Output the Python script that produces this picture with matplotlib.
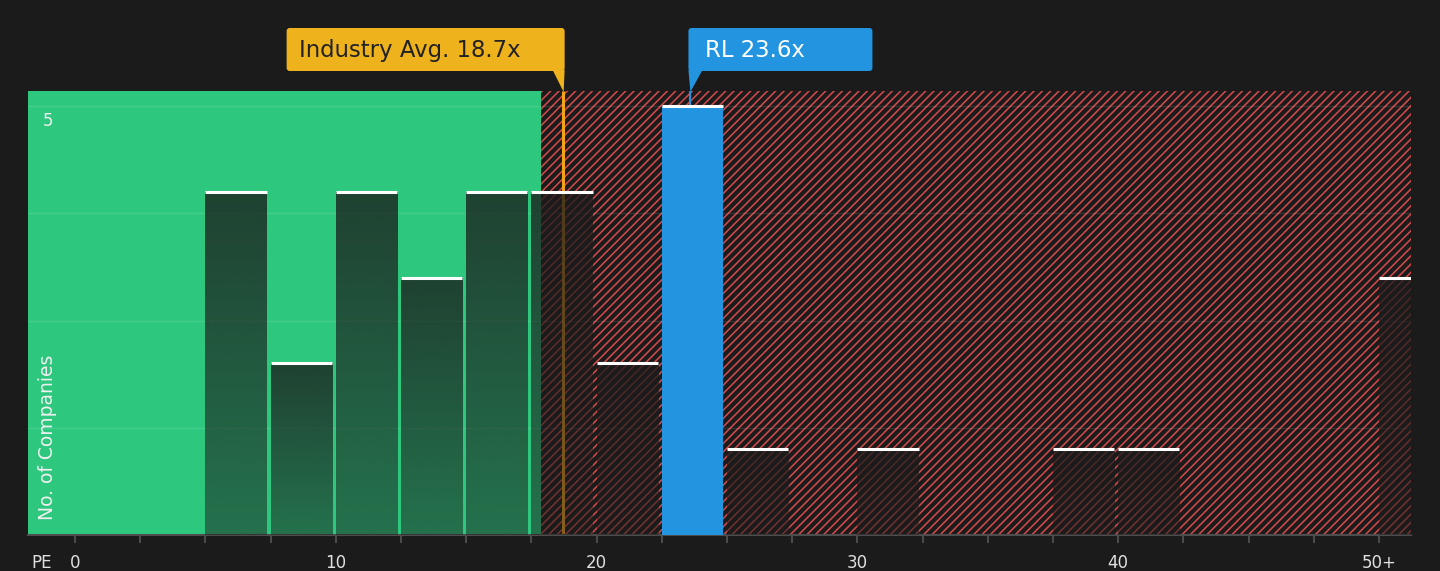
import numpy as np
import matplotlib.pyplot as plt
from matplotlib.patches import FancyBboxPatch, Polygon
from matplotlib.transforms import IdentityTransform

# histogram of PE ratios (bins of 2.5, last bin is 50+)
bin_left = [5, 7.5, 10, 12.5, 15, 17.5, 20, 22.5, 25, 27.5, 30, 32.5,
            35, 37.5, 40, 42.5, 45, 47.5, 50]
counts = [4, 2, 4, 3, 4, 4, 2, 5, 1, 0, 1, 0, 0, 1, 1, 0, 0, 0, 3]
tick_vals = [0, 10, 20, 30, 40, 50]
tick_text = ["0", "10", "20", "30", "40", "50+"]

industry_avg = 18.7
company = "RL"
company_pe = 23.6
fair_edge = 17.87   # end of green zone

bg = "#1b1b1b"
green = "#2ec77e"
red = "#d14a4a"
gold = "#edb21c"
orange = "#f2a31b"
blue = "#2394e0"

W, H, DPI = 1440, 571, 100
fig = plt.figure(figsize=(W / DPI, H / DPI), dpi=DPI, facecolor=bg)
ax = fig.add_axes([28 / W, 1 - 535 / H, (1411 - 28) / W, (535 - 91) / H])
ax.set_facecolor(bg)

xmin, xmax = -1.80, 51.23
ymax = 5.175
plt.rcParams["hatch.linewidth"] = 1.15

ax.axvspan(xmin, fair_edge, color=green, lw=0, zorder=0)
ax.axvspan(fair_edge, xmax, facecolor=bg, edgecolor=red, hatch="////", lw=0, zorder=0)

for gy in [1.25, 2.5, 3.75, 5]:
    ax.axhline(gy, color="white", alpha=0.1, lw=1, zorder=1)

# marker lines (bars sit on top of them)
ax.vlines(industry_avg, 0, ymax, color=orange, lw=2.2, zorder=2, clip_on=False)
ax.vlines(company_pe, 0, ymax, color=blue, lw=1.5, zorder=2, clip_on=False)

bar_w = 2.35
rl_bin = max(b for b in bin_left if b <= company_pe)
colors = [blue if b == rl_bin else (0, 0, 0, 0) for b in bin_left]
bars = ax.bar(bin_left, counts, width=bar_w, align="edge", color=colors,
              lw=0, zorder=3)

bgrgb = np.array([27, 27, 27]) / 255
grad = np.zeros((64, 1, 4))
grad[:, 0, :3] = bgrgb
grad[:, 0, 3] = np.linspace(0.78, 0.5, 64)

for b, x0, h in zip(bars, bin_left, counts):
    if h == 0:
        continue
    if x0 != rl_bin:
        im = ax.imshow(grad, extent=(x0, x0 + bar_w, 0, h), aspect="auto",
                       interpolation="bilinear", zorder=3)
        im.set_clip_path(b)
    ax.hlines(h, x0, x0 + bar_w, color="white", lw=2.2, zorder=4)

ax.set_xlim(xmin, xmax)
ax.set_ylim(0, ymax)

for s in ["left", "right", "top"]:
    ax.spines[s].set_visible(False)
ax.spines["bottom"].set_color("#4d4d4d")
ax.spines["bottom"].set_linewidth(1.5)

ax.set_xticks(np.arange(0, 52.5, 2.5))
ax.set_xticklabels([tick_text[tick_vals.index(v)] if v in tick_vals else ""
                    for v in np.arange(0, 52.5, 2.5)])
ax.tick_params(axis="x", colors="#555555", length=6, width=1.2,
               labelcolor="#e0e0e0", labelsize=12, pad=8)
ax.set_yticks([])

ax.annotate("5", xy=(0, 5), xycoords=("axes fraction", "data"),
            xytext=(20, -15), textcoords="offset pixels", ha="center",
            va="center", color="#f0f0f0", fontsize=12)
ax.annotate("No. of Companies", xy=(0, 0), xycoords="axes fraction",
            xytext=(20, 15), textcoords="offset pixels", ha="center",
            va="bottom", rotation=90, color="#f0f0f0", fontsize=13.5)
ax.annotate("PE", xy=(0, 0), xycoords="axes fraction",
            xytext=(14, -28), textcoords="offset pixels", ha="center",
            va="center", color="#e0e0e0", fontsize=12)

# callout boxes, placed in pixels relative to the marker values
px = lambda v: ax.transData.transform((v, 0))[0]
top, bot, tip = H - 28, H - 71, H - 92

xa = px(industry_avg)
fig.add_artist(FancyBboxPatch((xa - 276, bot), 278, top - bot,
                              boxstyle="round,pad=0,rounding_size=3",
                              transform=IdentityTransform(), fc=gold, lw=0))
fig.add_artist(Polygon([(xa - 10, bot + 1), (xa + 2, bot + 1), (xa + 1, tip)],
                       transform=IdentityTransform(), fc=gold, lw=0))
fig.text((xa - 264) / W, (top + bot) / 2 / H - 0.002, f"Industry Avg. {industry_avg}x",
         ha="left", va="center", color="#222222", fontsize=16.4)

xr = px(company_pe)
fig.add_artist(FancyBboxPatch((xr - 2, bot), 184, top - bot,
                              boxstyle="round,pad=0,rounding_size=3",
                              transform=IdentityTransform(), fc=blue, lw=0))
fig.add_artist(Polygon([(xr - 2, bot + 1), (xr + 12, bot + 1), (xr, tip)],
                       transform=IdentityTransform(), fc=blue, lw=0))
fig.text((xr + 15) / W, (top + bot) / 2 / H - 0.002, f"{company} {company_pe}x",
         ha="left", va="center", color="white", fontsize=16.4)

fig.savefig("out.png", dpi=DPI, facecolor=bg)
